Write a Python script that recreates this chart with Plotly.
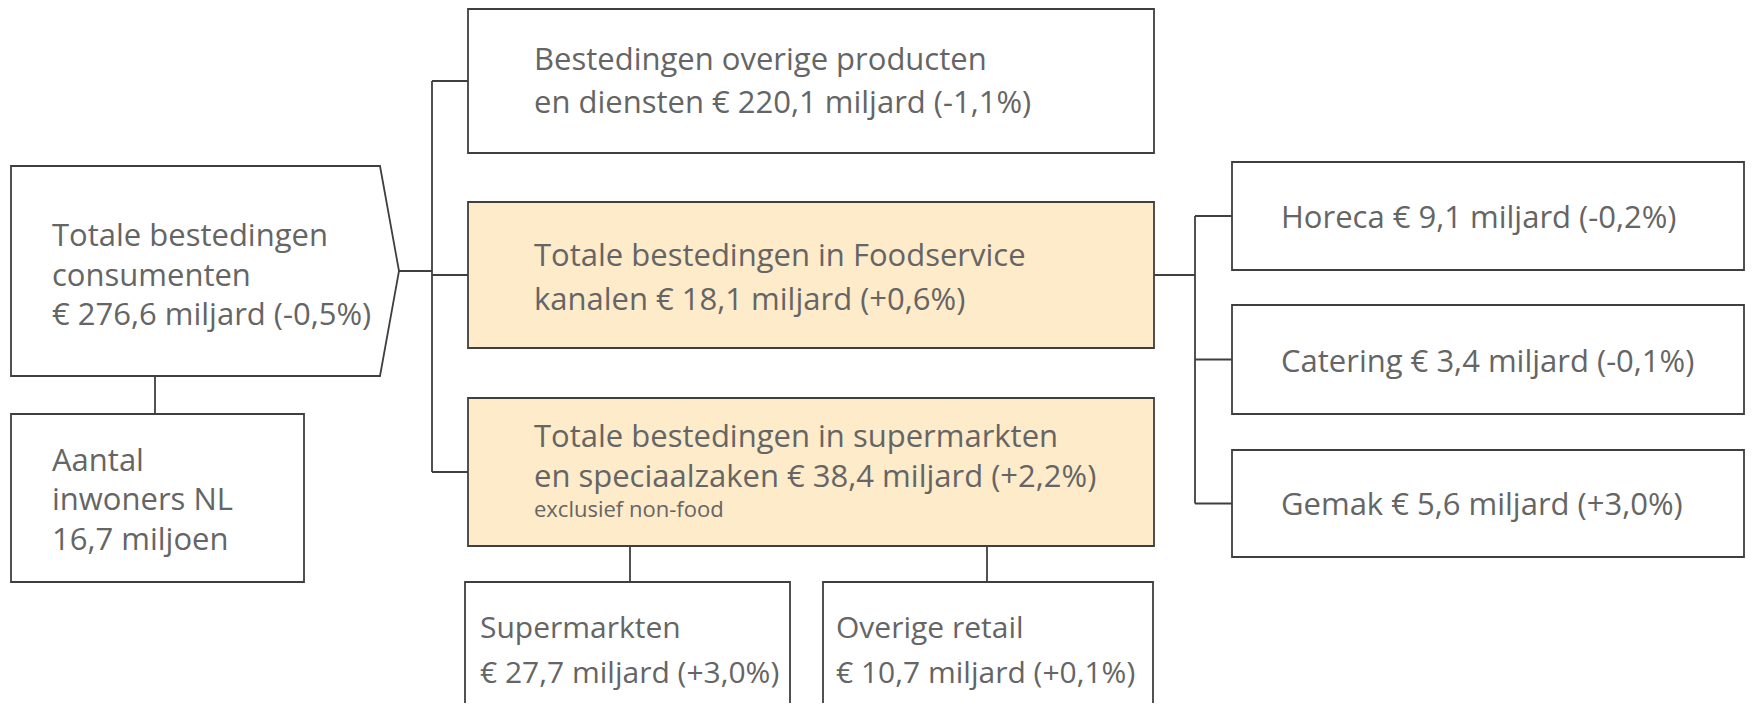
import plotly.graph_objects as go

# ---- content (text of each node) ----
node_ids = ["totaal", "inwoners", "overig", "foodservice", "supermarkt_spec",
            "supermarkten", "overige_retail", "horeca", "catering", "gemak"]
node_lines = {
    "totaal": ["Totale bestedingen", "consumenten", "€ 276,6 miljard (-0,5%)"],
    "inwoners": ["Aantal", "inwoners NL", "16,7 miljoen"],
    "overig": ["Bestedingen overige producten", "en diensten € 220,1 miljard (-1,1%)"],
    "foodservice": ["Totale bestedingen in Foodservice", "kanalen € 18,1 miljard (+0,6%)"],
    "supermarkt_spec": ["Totale bestedingen in supermarkten",
                        "en speciaalzaken € 38,4 miljard (+2,2%)"],
    "supermarkten": ["Supermarkten", "€ 27,7 miljard (+3,0%)"],
    "overige_retail": ["Overige retail", "€ 10,7 miljard (+0,1%)"],
    "horeca": ["Horeca € 9,1 miljard (-0,2%)"],
    "catering": ["Catering € 3,4 miljard (-0,1%)"],
    "gemak": ["Gemak € 5,6 miljard (+3,0%)"],
}
footnote = "exclusief non-food"
highlighted = ["foodservice", "supermarkt_spec"]
edges = [("totaal", "inwoners"), ("totaal", "overig"), ("totaal", "foodservice"),
         ("totaal", "supermarkt_spec"), ("supermarkt_spec", "supermarkten"),
         ("supermarkt_spec", "overige_retail"), ("foodservice", "horeca"),
         ("foodservice", "catering"), ("foodservice", "gemak")]

# ---- layout geometry (screen pixels: x0, y0, x1, y1) ----
box = {
    "totaal": (11, 166, 380, 376),
    "inwoners": (11, 414, 304, 582),
    "overig": (468, 9, 1154, 153),
    "foodservice": (468, 202, 1154, 348),
    "supermarkt_spec": (468, 398, 1154, 546),
    "supermarkten": (465, 582, 790, 730),
    "overige_retail": (823, 582, 1153, 730),
    "horeca": (1232, 162, 1744, 270),
    "catering": (1232, 305, 1744, 414),
    "gemak": (1232, 450, 1744, 557),
}
text_x = {"totaal": 50, "inwoners": 50, "overig": 532, "foodservice": 532,
          "supermarkt_spec": 532, "supermarkten": 478, "overige_retail": 834,
          "horeca": 1279, "catering": 1279, "gemak": 1279}
text_y = {"totaal": [234, 274, 313], "inwoners": [459, 498, 538],
          "overig": [58, 101], "foodservice": [254, 298],
          "supermarkt_spec": [435, 475], "supermarkten": [626, 671],
          "overige_retail": [626, 671], "horeca": [216], "catering": [360],
          "gemak": [503]}
text_size = {"supermarkten": 30, "overige_retail": 30}
footnote_y = 508

W, H = 1754, 711
OFF = 8  # page body margin
LINE = dict(color="#3f3f3f", width=1.8)
FILL_HI = "#FEEBCA"
TXT = "#656565"
FONT = "Open Sans"

fig = go.Figure()
shapes = []

for nid in node_ids:
    x0, y0, x1, y1 = box[nid]
    fill = FILL_HI if nid in highlighted else "white"
    if nid == "totaal":
        tip = 399
        ym = (y0 + y1) / 2
        path = f"M {x0},{y0} L {x1},{y0} L {tip},{ym} L {x1},{y1} L {x0},{y1} Z"
        shapes.append(dict(type="path", path=path, line=LINE, fillcolor=fill, layer="above"))
    else:
        shapes.append(dict(type="rect", x0=x0, y0=y0, x1=x1, y1=y1,
                           line=LINE, fillcolor=fill, layer="below"))


def seg(xa, ya, xb, yb):
    shapes.append(dict(type="line", x0=xa, y0=ya, x1=xb, y1=yb, line=LINE, layer="below"))


def cy(n):
    return (box[n][1] + box[n][3]) / 2


trunk_x = 432
right_trunk_x = 1195
for a, b in edges:
    if a == "totaal" and b == "inwoners":
        seg(155, box[a][3], 155, box[b][1])
    elif a == "totaal":
        seg(399, cy(a), trunk_x, cy(a))
        seg(trunk_x, cy(b), box[b][0], cy(b))
    elif a == "supermarkt_spec":
        xm = 630 if b == "supermarkten" else 987
        seg(xm, box[a][3], xm, box[b][1])
    elif a == "foodservice":
        seg(box[a][2], cy(a), right_trunk_x, cy(a))
        seg(right_trunk_x, cy(b), box[b][0], cy(b))

seg(trunk_x, cy("overig"), trunk_x, cy("supermarkt_spec"))
seg(right_trunk_x, cy("horeca"), right_trunk_x, cy("gemak"))

annotations = []
for nid in node_ids:
    for line, y in zip(node_lines[nid], text_y[nid]):
        annotations.append(dict(x=text_x[nid], y=y, text=line, showarrow=False,
                                xanchor="left", yanchor="middle", align="left",
                                font=dict(family=FONT, size=text_size.get(nid, 31),
                                          color=TXT)))
annotations.append(dict(x=text_x["supermarkt_spec"], y=footnote_y, text=footnote,
                        showarrow=False, xanchor="left", yanchor="middle",
                        font=dict(family=FONT, size=22, color=TXT)))

# page body has an 8px margin on every side; keep the figure inside the window
fig.update_layout(
    width=W - 2 * OFF, height=H - 2 * OFF, margin=dict(l=0, r=0, t=0, b=0),
    paper_bgcolor="white", plot_bgcolor="white",
    xaxis=dict(range=[OFF, W - OFF], visible=False, fixedrange=True),
    yaxis=dict(range=[H - OFF, OFF], visible=False, fixedrange=True),
    shapes=shapes, annotations=annotations, showlegend=False,
)

fig.write_html("out.html")
